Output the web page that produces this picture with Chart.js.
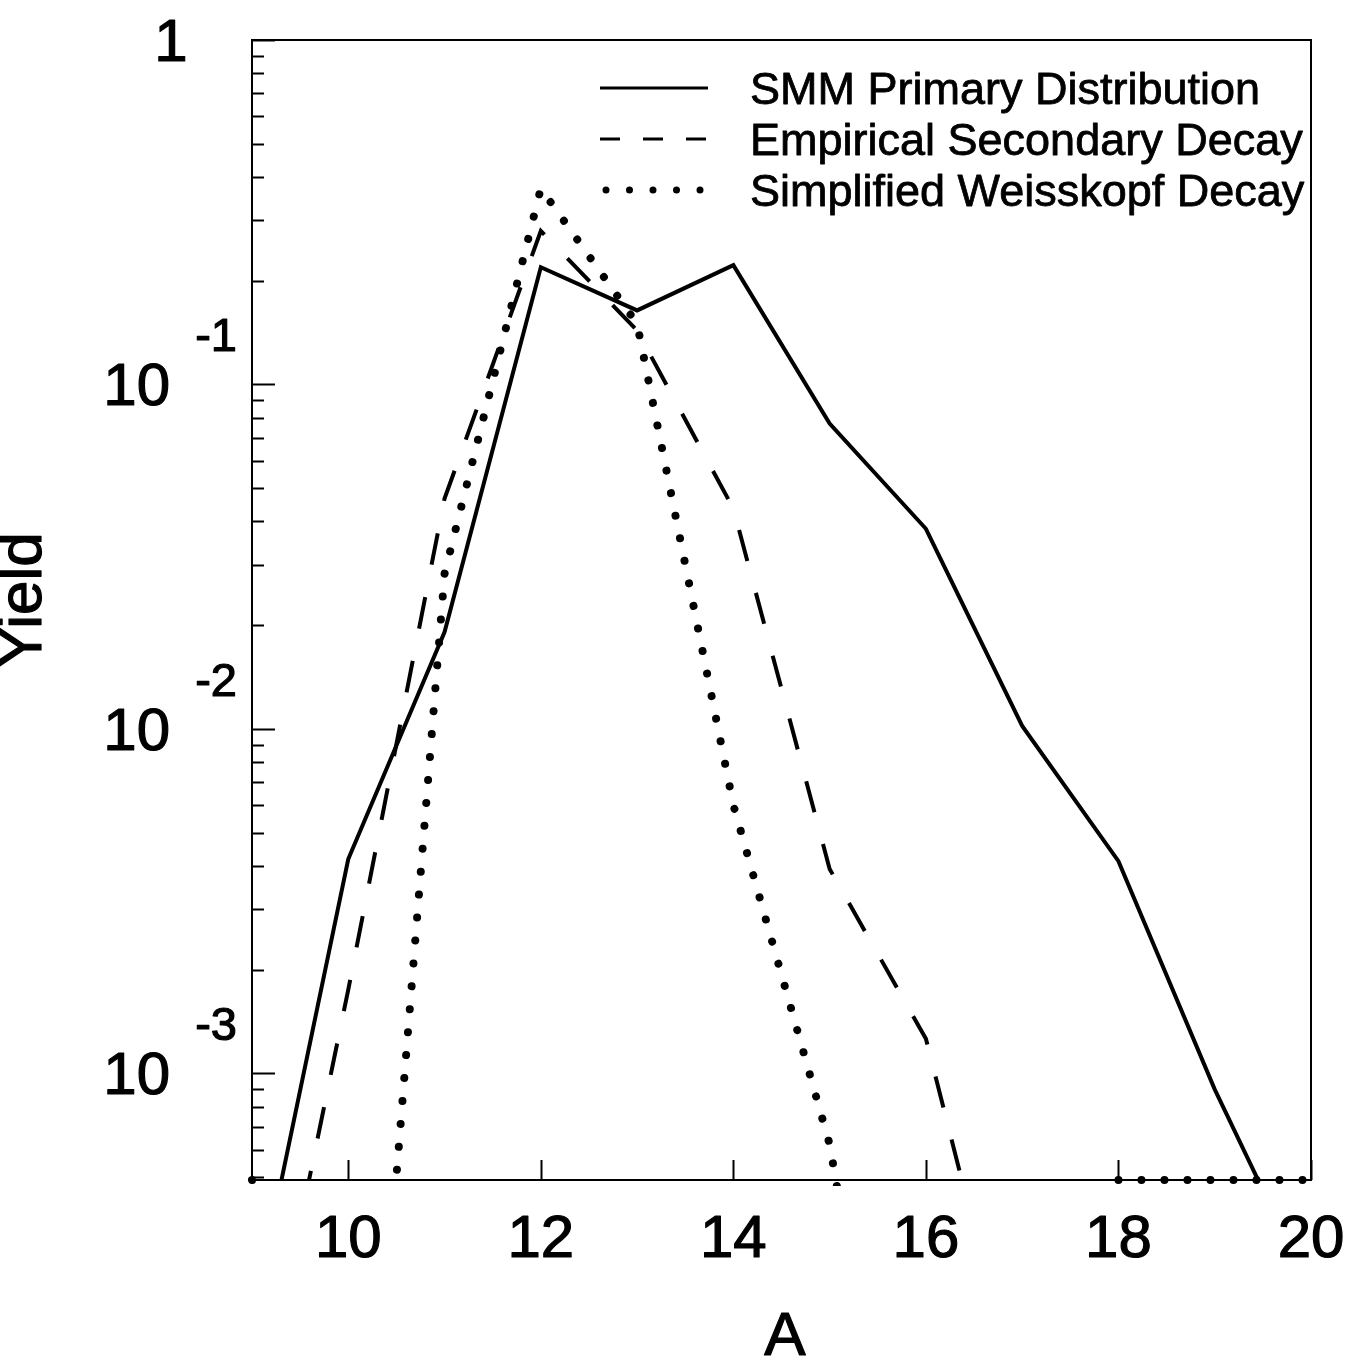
<!DOCTYPE html>
<html><head><meta charset="utf-8">
<script src="https://cdn.jsdelivr.net/npm/chart.js@4/dist/chart.umd.min.js"></script>
<style>html,body{margin:0;padding:0;background:#fff;}canvas{display:block;}</style>
</head><body>
<canvas id="c" width="1352" height="1370"></canvas>
<script>
// ---- data ----
const massNumbers = [9, 10, 11, 12, 13, 14, 15, 16, 17, 18, 19, 20];
const smmPrimary = [1.9e-4, 0.00419, 0.0191, 0.219, 0.164, 0.222, 0.077, 0.0381, 0.0102, 0.00413, 0.000898, 2.34e-4];
const empiricalSecondary = [7.7e-5, 0.00175, 0.0466, 0.279, 0.1435, 0.0436, 0.00392, 0.00126, 1.0e-4, null, null, null];
const weisskopfDecay = [0.00049, 8.9e-6, 0.0282, 0.371, 0.150, 0.00601, 0.000622, 1.5e-5, null, 0.00049, 0.00049, 0.00049];
const seriesNames = ['SMM Primary Distribution', 'Empirical Secondary Decay', 'Simplified Weisskopf Decay'];
const xTickValues = [10, 12, 14, 16, 18, 20];
const yDecadeExponents = [0, -1, -2, -3];
const xAxisTitle = 'A';
const yAxisTitle = 'Yield';
const xMin = 9, xMax = 20, yMin = 0.00049, yMax = 1;

const FONT = '"Liberation Sans", Arial, Helvetica, sans-serif';
const toPts = arr => massNumbers.map((a, i) => ({x: a, y: arr[i]}));

const decor = {
  id: 'decor',
  afterDraw(chart) {
    const {ctx, chartArea: a, scales: {x, y}} = chart;
    ctx.save();
    ctx.strokeStyle = '#000';
    ctx.fillStyle = '#000';
    ctx.lineCap = 'butt';
    const seg = (x1, y1, x2, y2) => { ctx.beginPath(); ctx.moveTo(x1, y1); ctx.lineTo(x2, y2); ctx.stroke(); };
    const text = (s, tx, ty, w) => {
      ctx.fillText(s, tx, ty);
      ctx.save(); ctx.lineWidth = w; ctx.lineJoin = 'round'; ctx.strokeText(s, tx, ty); ctx.restore();
    };
    // frame
    ctx.lineWidth = 2;
    ctx.strokeRect(a.left, a.top, a.right - a.left, a.bottom - a.top);
    // y ticks (log, inward)
    for (let e = -4; e <= 0; e++) {
      for (let m = 1; m <= 9; m++) {
        const v = m * Math.pow(10, e);
        if (v < yMin || v > yMax * 1.0001) continue;
        const py = Math.round(y.getPixelForValue(v)) + 0.5;
        seg(a.left, py, a.left + (m === 1 ? 23 : 12), py);
      }
    }
    // x ticks (inward)
    xTickValues.forEach(v => {
      const px = Math.round(x.getPixelForValue(v)) + 0.5;
      seg(px, a.bottom, px, a.bottom - 20);
    });
    // x tick labels
    ctx.font = '60px ' + FONT;
    ctx.textAlign = 'center';
    ctx.textBaseline = 'alphabetic';
    xTickValues.forEach(v => text(String(v), x.getPixelForValue(v), 1257, 1.2));
    // y tick labels: 10 with exponent
    yDecadeExponents.forEach(e => {
      const py = y.getPixelForValue(Math.pow(10, e));
      if (e === 0) {
        ctx.font = '60px ' + FONT;
        ctx.textAlign = 'center';
        text('1', 171, py + 21, 1.2);
      } else {
        ctx.font = '60px ' + FONT;
        ctx.textAlign = 'right';
        text('10', 170, py + 21, 1.2);
        ctx.font = '47px ' + FONT;
        text(String(e), 237, py - 33, 1.2);
      }
    });
    // axis titles
    ctx.font = '62px ' + FONT;
    ctx.textAlign = 'center';
    text(xAxisTitle, 785, 1355, 1.2);
    ctx.save();
    ctx.translate(41, 600);
    ctx.rotate(-Math.PI / 2);
    text(yAxisTitle, 0, 0, 1.2);
    ctx.restore();
    // legend
    const ds = chart.data.datasets;
    const rows = [104, 155, 206];
    ctx.font = '45px ' + FONT;
    ctx.textAlign = 'left';
    ds.forEach((d, i) => {
      const ly = rows[i] - 16;
      ctx.save();
      ctx.lineWidth = i === 2 ? 7 : 3;
      ctx.lineCap = i === 2 ? 'round' : 'butt';
      ctx.setLineDash(i === 0 ? [] : (i === 1 ? [20, 23] : [0.001, 23.5]));
      seg(i === 2 ? 606 : 600, ly, 708, ly);
      ctx.restore();
      text(d.label, 750, rows[i], 0.8);
    });
    ctx.restore();
  }
};

new Chart(document.getElementById('c'), {
  type: 'line',
  data: {
    datasets: [
      {label: seriesNames[0], data: toPts(smmPrimary), borderColor: '#000', borderWidth: 4, pointRadius: 0, borderJoinStyle: 'miter'},
      {label: seriesNames[1], data: toPts(empiricalSecondary), borderColor: '#000', borderWidth: 4, borderDash: [32, 33], pointRadius: 0},
      {label: seriesNames[2], data: toPts(weisskopfDecay), borderColor: '#000', borderWidth: 8, borderDash: [0.001, 23], borderCapStyle: 'round', pointRadius: 0, clip: {left: 6, top: 0, right: 6, bottom: 6}}
    ]
  },
  options: {
    responsive: false,
    animation: false,
    devicePixelRatio: 1,
    spanGaps: false,
    layout: {padding: {top: 40, right: 41, left: 0, bottom: 0}},
    plugins: {legend: {display: false}, tooltip: {enabled: false}},
    elements: {line: {tension: 0, fill: false}, point: {radius: 0}},
    scales: {
      x: {type: 'linear', min: xMin, max: xMax, grid: {display: false, drawTicks: false}, border: {display: false}, ticks: {display: false}, afterFit: s => { s.height = 190; }},
      y: {type: 'logarithmic', min: yMin, max: yMax, grid: {display: false, drawTicks: false}, border: {display: false}, ticks: {display: false}, afterFit: s => { s.width = 252; }}
    }
  },
  plugins: [decor]
});
</script>
</body></html>
